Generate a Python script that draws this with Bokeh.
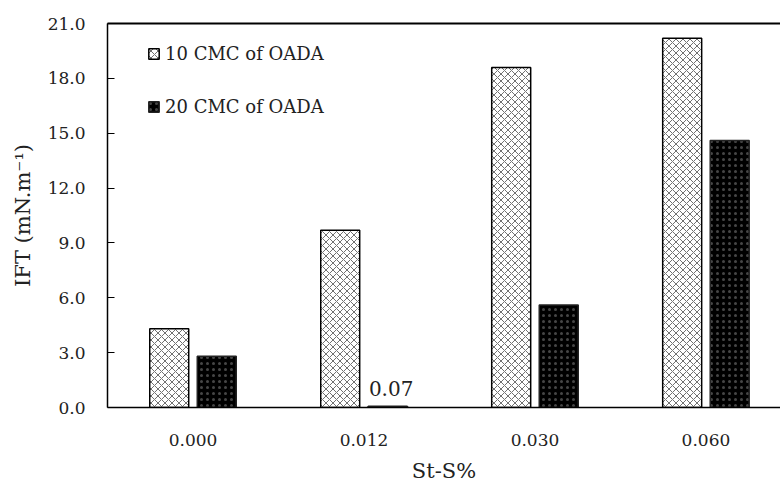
from bokeh.plotting import figure
from bokeh.models import (ColumnDataSource, FixedTicker, LinearAxis, Range1d,
                          Legend, LegendItem, NumeralTickFormatter)
from bokeh.transform import dodge
from bokeh.embed import file_html
from bokeh.resources import INLINE

# IFT measurements for each St-S% dose
categories = ["0.000", "0.012", "0.030", "0.060"]
ift_10cmc = [4.3, 9.7, 18.6, 20.2]
ift_20cmc = [2.8, 0.07, 5.6, 14.6]
y_ticks = [0, 3, 6, 9, 12, 15, 18, 21]

FONT = "DejaVu Serif"

src = ColumnDataSource(dict(
    idx=list(range(len(categories))),
    a=ift_10cmc,
    b=ift_20cmc,
))

p = figure(width=780, height=485, output_backend="svg", toolbar_location=None,
           x_range=Range1d(-0.5, 3.436), y_range=Range1d(0, 21),
           min_border_left=107, min_border_right=0, min_border_top=23,
           min_border_bottom=78)
p.outline_line_color = None
p.xgrid.visible = False
p.ygrid.visible = False
p.background_fill_color = "white"
p.border_fill_color = "white"

bar_w = 0.228
off = 0.139

r1 = p.vbar(x=dodge("idx", -off), top="a", width=bar_w, source=src,
            fill_color="white", line_color="black", line_width=1.5,
            hatch_pattern="diagonal_cross", hatch_color="#707070",
            hatch_scale=7, hatch_weight=1)
r2 = p.vbar(x=dodge("idx", off), top="b", width=bar_w, source=src,
            fill_color="black", line_color="#222222", line_width=1.5,
            hatch_pattern="dot", hatch_color="#808080", hatch_alpha=0.55,
            hatch_scale=6, hatch_weight=0.5)

# value label on the near-zero bar
lab = ColumnDataSource(dict(x=[1], y=[ift_20cmc[1]], t=["%.2f" % ift_20cmc[1]]))
p.text(x=dodge("x", off + 0.02), y="y", text="t", source=lab,
       text_align="center", text_baseline="bottom", y_offset=-10,
       text_font={"value": FONT}, text_font_size="20px", text_color="#222222")

# axes
xa = p.xaxis[0]
xa.ticker = FixedTicker(ticks=list(range(len(categories))))
xa.major_label_overrides = {i: c for i, c in enumerate(categories)}
xa.major_tick_line_color = None
xa.minor_tick_line_color = None
xa.axis_line_color = "black"
xa.axis_line_width = 1.5
xa.major_label_standoff = 20
xa.major_label_text_font = FONT
xa.major_label_text_font_size = "17px"
xa.major_label_text_color = "#222222"
xa.axis_label = "St-S%"
xa.axis_label_standoff = 10
xa.axis_label_text_font = FONT
xa.axis_label_text_font_size = "21px"
xa.axis_label_text_font_style = "normal"
xa.axis_label_text_color = "#222222"

ya = p.yaxis[0]
ya.ticker = FixedTicker(ticks=y_ticks)
ya.formatter = NumeralTickFormatter(format="0.0")
ya.major_tick_in = 7
ya.major_tick_out = 0
ya.major_tick_line_width = 1.2
ya.minor_tick_line_color = None
ya.axis_line_color = "black"
ya.axis_line_width = 1.5
ya.major_label_standoff = 22
ya.major_label_text_font = FONT
ya.major_label_text_font_size = "17px"
ya.major_label_text_color = "#222222"
ya.axis_label = "IFT (mN.m⁻¹)"
ya.axis_label_standoff = 10
ya.axis_label_text_font = FONT
ya.axis_label_text_font_size = "21px"
ya.axis_label_text_font_style = "normal"
ya.axis_label_text_color = "#222222"

# top frame line
top = LinearAxis(ticker=FixedTicker(ticks=[]), major_tick_line_color=None,
                 minor_tick_line_color=None, major_label_text_font_size="0px",
                 axis_line_color="black", axis_line_width=2)
p.add_layout(top, "above")

legend = Legend(items=[LegendItem(label="10 CMC of OADA", renderers=[r1]),
                       LegendItem(label="20 CMC of OADA", renderers=[r2])],
                location=(40, 290), orientation="vertical")
legend.border_line_color = None
legend.background_fill_alpha = 0
legend.label_text_font = FONT
legend.label_text_font_size = "18px"
legend.label_text_color = "#222222"
legend.glyph_width = 13
legend.glyph_height = 13
legend.label_standoff = 5
legend.spacing = 32
legend.padding = 0
legend.margin = 0
p.add_layout(legend)

open("out.html", "w").write(file_html(p, INLINE))
